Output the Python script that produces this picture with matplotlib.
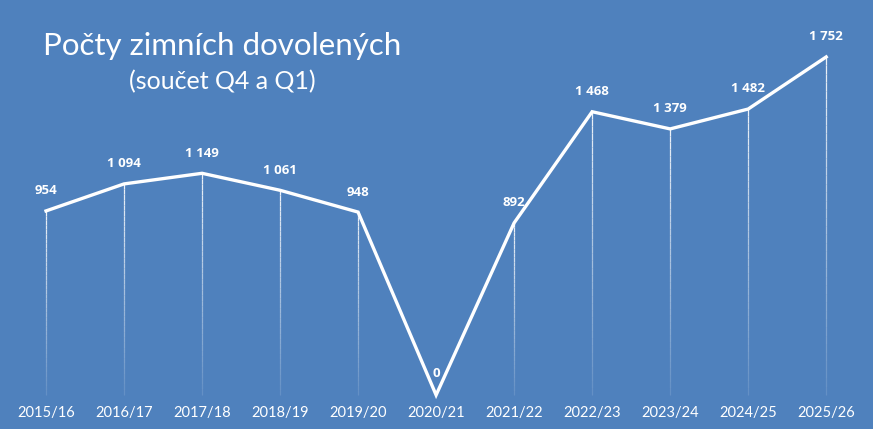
import matplotlib.pyplot as plt
import numpy as np
from matplotlib.collections import LineCollection

seasons = ["2015/16", "2016/17", "2017/18", "2018/19", "2019/20", "2020/21",
           "2021/22", "2022/23", "2023/24", "2024/25", "2025/26"]
counts = [954, 1094, 1149, 1061, 948, 0, 892, 1468, 1379, 1482, 1752]

title = "Počty zimních dovolených"
subtitle = "(součet Q4 a Q1)"

bg = "#4F81BD"
fig = plt.figure(figsize=(8.73, 4.29), dpi=100, facecolor=bg)
ax = fig.add_axes([0, 0, 1, 1])
ax.set_facecolor(bg)

x = np.arange(len(seasons))
y = np.array(counts, dtype=float)

# fading drop lines from each point down to zero
segs, cols = [], []
n = 40
for xi, yi in zip(x, y):
    if yi <= 0:
        continue
    ys = np.linspace(yi, 0, n + 1)
    for k in range(n):
        segs.append([(xi, ys[k]), (xi, ys[k + 1])])
        cols.append((1, 1, 1, 0.9 - 0.8 * k / n))
ax.add_collection(LineCollection(segs, colors=cols, linewidths=0.9, zorder=1))

ax.plot(x, y, color="white", lw=2.4, solid_joinstyle="miter", zorder=2)

for xi, yi, v in zip(x, y, counts):
    lab = f"{v:,}".replace(",", " ")
    ax.text(xi, yi + (104 if v else 110), lab, ha="center", va="center",
            color="white", fontsize=9.5, fontweight="bold", family="Open Sans", zorder=3)

for xi, s in zip(x, seasons):
    ax.text(xi, -95, s, ha="center", va="center", color="white",
            fontsize=10.5, family="Lato")

ax.set_xlim(-0.59, 10.6)
ax.set_ylim(-176, 2047)
ax.axis("off")

fig.text(222 / 873, 1 - 46 / 429, title, ha="center", va="center",
         color="white", fontsize=22.5, family="Lato")
fig.text(222 / 873, 1 - 82 / 429, subtitle, ha="center", va="center",
         color="white", fontsize=18, family="Lato")

fig.savefig("out.png", dpi=100, facecolor=bg)
